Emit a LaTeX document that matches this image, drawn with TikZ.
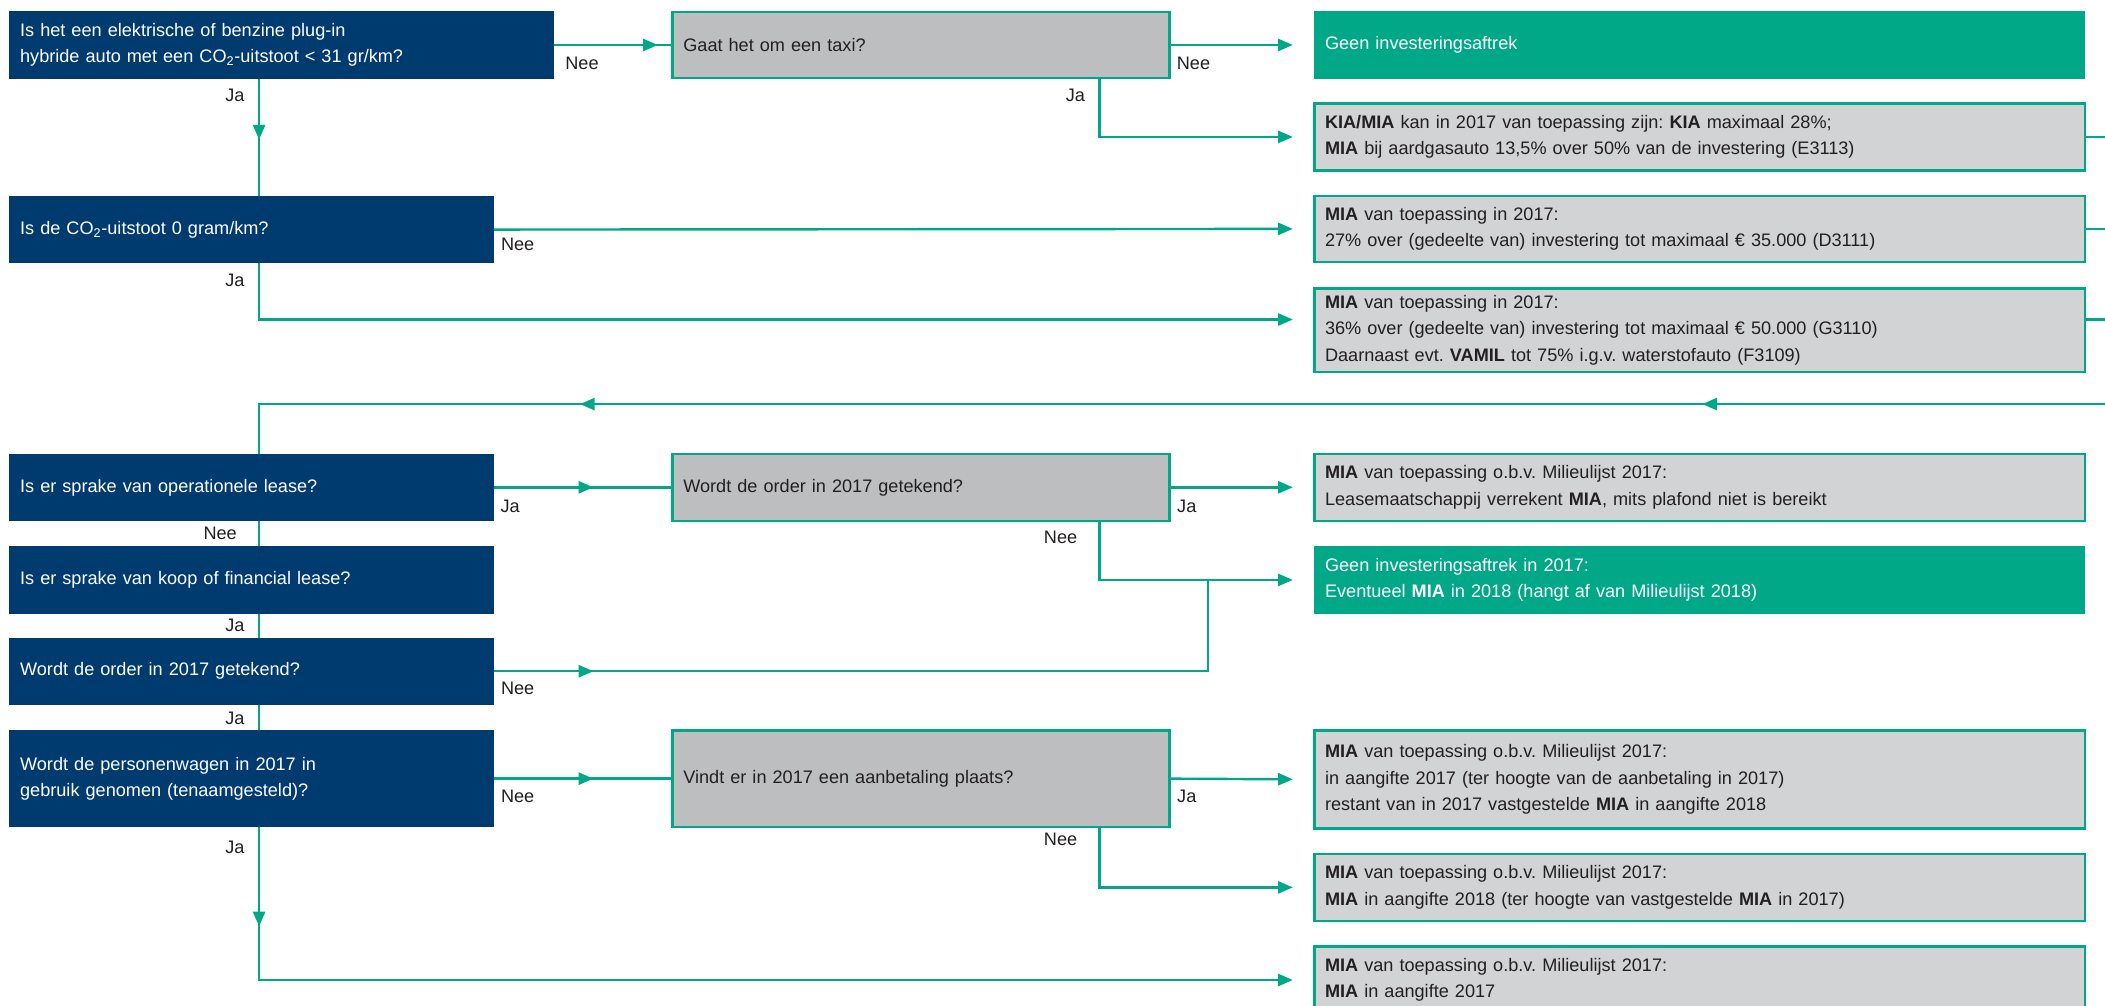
\documentclass[tikz,border=0pt]{standalone}
\usepackage{fontspec}
\setmainfont{Liberation Sans}
\usetikzlibrary{arrows.meta,calc}
\definecolor{dblue}{HTML}{003B6F}
\definecolor{tgreen}{HTML}{00A887}
\definecolor{qgray}{HTML}{BCBEC0}
\definecolor{rgray}{HTML}{D1D3D4}
\definecolor{ink}{HTML}{231F20}
\frenchspacing
\begin{document}
\begin{tikzpicture}[x=1pt,y=-1pt,
  font=\fontsize{13.5}{19.5}\selectfont\frenchspacing,
  base/.style={anchor=north west, inner xsep=8pt, inner ysep=0pt, align=left, outer sep=0pt},
  dq/.style={base, fill=dblue, text=white},
  gq/.style={base, fill=qgray, draw=tgreen, line width=1.8pt, text=ink},
  res/.style={base, fill=rgray, draw=tgreen, line width=1.8pt, text=ink},
  fin/.style={base, fill=tgreen, text=white},
  conn/.style={draw=tgreen, line width=1.8pt},
  arr/.style={conn, -{Triangle[length=11pt,width=9pt]}},
  lbl/.style={text=ink, inner sep=0pt},
]
\useasboundingbox (0,0) rectangle (1568,749);
\clip (0,0) rectangle (1568,749);

% helper coordinates
\coordinate (vx) at (193,0);
\coordinate (tx) at (819,0);
\coordinate (jx) at (900,0);
\coordinate (rx) at (1568,0);
\coordinate (ry) at (0,301);
\coordinate (rt1) at (1268,301);
\coordinate (rt2) at (432,301);

% question boxes (dark)
\node[dq, text width=390pt, minimum height=51pt] (q1) at (7,8)
  {Is het een elektrische of benzine plug-in\\hybride auto met een CO\textsubscript{2}-uitstoot < 31 gr/km?};
\node[dq, text width=345pt, minimum height=50pt] (q2) at (7,146)
  {Is de CO\textsubscript{2}-uitstoot 0 gram/km?};
\node[dq, text width=345pt, minimum height=50pt] (q3) at (7,338)
  {Is er sprake van operationele lease?};
\node[dq, text width=345pt, minimum height=50pt] (q4) at (7,407)
  {Is er sprake van koop of financial lease?};
\node[dq, text width=345pt, minimum height=50pt] (q5) at (7,475)
  {Wordt de order in 2017 getekend?};
\node[dq, text width=345pt, minimum height=72pt] (q6) at (7,544)
  {Wordt de personenwagen in 2017 in\\gebruik genomen (tenaamgesteld)?};

% gray question boxes
\node[gq, text width=354pt, minimum height=49pt] (taxi) at (501,9)
  {Gaat het om een taxi?};
\node[gq, text width=354pt, minimum height=50pt] (g2) at (501,338)
  {Wordt de order in 2017 getekend?};
\node[gq, text width=354pt, minimum height=72pt] (g3) at (501,544)
  {Vindt er in 2017 een aanbetaling plaats?};

% result boxes
\node[fin, text width=558pt, minimum height=51pt] (geen) at (979,8)
  {Geen investeringsaftrek};
\node[res, text width=558pt, minimum height=50pt] (kia) at (979,77)
  {\textbf{KIA/MIA} kan in 2017 van toepassing zijn: \textbf{KIA} maximaal 28\%;\\\textbf{MIA} bij aardgasauto 13,5\% over 50\% van de investering (E3113)};
\node[res, text width=558pt, minimum height=49pt] (mia27) at (979,146)
  {\textbf{MIA} van toepassing in 2017:\\27\% over (gedeelte van) investering tot maximaal € 35.000 (D3111)};
\node[res, text width=558pt, minimum height=62pt] (mia36) at (979,215)
  {\textbf{MIA} van toepassing in 2017:\\36\% over (gedeelte van) investering tot maximaal € 50.000 (G3110)\\Daarnaast evt. \textbf{VAMIL} tot 75\% i.g.v. waterstofauto (F3109)};
\node[res, text width=558pt, minimum height=50pt] (lease) at (979,338)
  {\textbf{MIA} van toepassing o.b.v. Milieulijst 2017:\\Leasemaatschappij verrekent \textbf{MIA}, mits plafond niet is bereikt};
\node[fin, text width=558pt, minimum height=50pt] (green2) at (979,407)
  {Geen investeringsaftrek in 2017:\\Eventueel \textbf{MIA} in 2018 (hangt af van Milieulijst 2018)};
\node[res, text width=558pt, minimum height=73pt] (aanb) at (979,544)
  {\textbf{MIA} van toepassing o.b.v. Milieulijst 2017:\\in aangifte 2017 (ter hoogte van de aanbetaling in 2017)\\restant van in 2017 vastgestelde \textbf{MIA} in aangifte 2018};
\node[res, text width=558pt, minimum height=50pt] (m2018) at (979,636)
  {\textbf{MIA} van toepassing o.b.v. Milieulijst 2017:\\\textbf{MIA} in aangifte 2018 (ter hoogte van vastgestelde \textbf{MIA} in 2017)};
\node[res, text width=558pt, minimum height=50pt] (last) at (979,705)
  {\textbf{MIA} van toepassing o.b.v. Milieulijst 2017:\\\textbf{MIA} in aangifte 2017};

% connectors
% Q1 Nee -> taxi
\draw[conn] (q1.east) -- (taxi.west);
\draw[arr] (q1.east) -- ($(taxi.west)+(-11,0)$);
% taxi Nee -> geen
\draw[arr] (taxi.east) -- ($(geen.west)+(-16,0)$);
% taxi Ja -> kia
\draw[arr] (taxi.south -| tx) |- ($(kia.west)+(-16,0)$);
\draw[conn] (kia.east) -- (kia.east -| rx);
% Q1 Ja -> Q2
\draw[conn] (q1.south -| vx) -- (q2.north -| vx);
\draw[arr] (q1.south -| vx) -- ($(q1.south -| vx)+(0,45)$);
% Q2 Nee -> mia27
\draw[arr] (q2.east) -- ($(mia27.west)+(-16,0)$);
\draw[conn] (mia27.east) -- (mia27.east -| rx);
% Q2 Ja -> mia36
\coordinate (m36y) at ($(mia36.north west)+(0,23)$);
\draw[arr] (q2.south -| vx) |- ($(m36y)+(-16,0)$);
\draw[conn] (m36y -| mia36.east) -- (m36y -| rx);
% return line
\draw[conn] (ry -| rx) -- (ry -| vx) -- (q3.north -| vx);
\draw[arr] (ry -| rx) -- (rt1);
\draw[arr] (rt1) -- (rt2);
% Q3 Ja -> g2
\draw[conn] (q3.east) -- (g2.west);
\draw[arr] (q3.east) -- ($(q3.east)+(74,0)$);
% g2 Ja -> lease
\draw[arr] (g2.east) -- ($(lease.west)+(-16,0)$);
% g2 Nee -> green2
\draw[arr] (g2.south -| tx) |- ($(green2.west)+(-16,0)$);
% spine Q3 -> Q4 -> Q5 -> Q6
\draw[conn] (q3.south -| vx) -- (q4.north -| vx);
\draw[conn] (q4.south -| vx) -- (q5.north -| vx);
\draw[conn] (q5.south -| vx) -- (q6.north -| vx);
% Q5 Nee -> join
\draw[conn] (q5.east) -- (q5.east -| jx) -- (jx |- green2.west);
\draw[arr] (q5.east) -- ($(q5.east)+(74,0)$);
% Q6 Nee -> g3
\draw[conn] (q6.east) -- (g3.west);
\draw[arr] (q6.east) -- ($(q6.east)+(74,0)$);
% g3 Ja -> aanb
\draw[arr] (g3.east) -- ($(aanb.west)+(-16,0)$);
% g3 Nee -> m2018
\draw[arr] (g3.south -| tx) |- ($(m2018.west)+(-16,0)$);
% Q6 Ja -> last
\draw[arr] (q6.south -| vx) |- ($(last.west)+(-16,0)$);
\draw[arr] (q6.south -| vx) -- ($(q6.south -| vx)+(0,74)$);

% labels
\node[lbl] (l1) at (433.5,47) {Nee};
\node[lbl] (l2) at (889,47) {Nee};
\node[lbl] (l3) at (801,71) {Ja};
\node[lbl] (l4) at (175,71) {Ja};
\node[lbl] (l5) at (385.6,182) {Nee};
\node[lbl] (l6) at (175,209) {Ja};
\node[lbl] (l7) at (380,377) {Ja};
\node[lbl] (l8) at (164,397) {Nee};
\node[lbl] (l9) at (884,377) {Ja};
\node[lbl] (l10) at (790,400) {Nee};
\node[lbl] (l11) at (175,466) {Ja};
\node[lbl] (l12) at (385.6,512.5) {Nee};
\node[lbl] (l13) at (175,535) {Ja};
\node[lbl] (l14) at (385.6,593) {Nee};
\node[lbl] (l15) at (884,593.5) {Ja};
\node[lbl] (l16) at (790,625) {Nee};
\node[lbl] (l17) at (175,631) {Ja};
\end{tikzpicture}
\end{document}
